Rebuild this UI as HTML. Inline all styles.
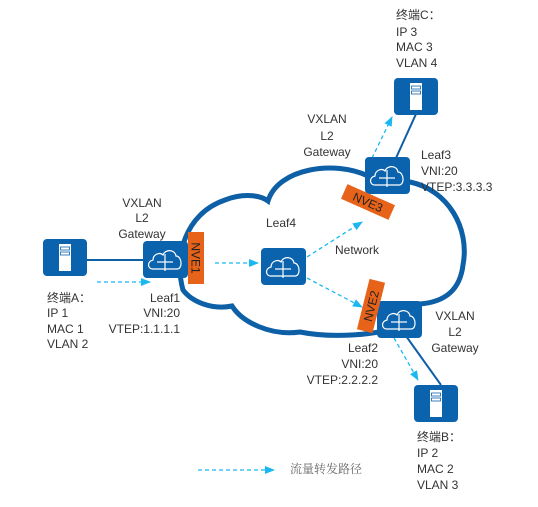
<!DOCTYPE html>
<html><head><meta charset="utf-8"><style>
html,body{margin:0;padding:0;background:#fff;width:538px;height:507px;overflow:hidden}
svg text{font-family:"Liberation Sans","Noto Sans CJK SC",sans-serif;font-size:12px;fill:#333}
</style></head><body>
<svg width="538" height="507" viewBox="0 0 538 507" xmlns="http://www.w3.org/2000/svg">
<defs>
<marker id="ar" markerWidth="10" markerHeight="8" refX="9" refY="4" orient="auto" markerUnits="userSpaceOnUse">
<path d="M0,0 L10,4 L0,8 Z" fill="#1ab8f0"/></marker>
<g id="sw">
<rect x="0" y="0" width="45" height="37" rx="4" fill="#0b63ad"/>
<path d="M10,28 C4,28 4,20 10,19 C10,13 17,11 20,14 C22,8 32,8 33,15 C39,15 40,28 34,28 Z" fill="none" stroke="#fff" stroke-width="1.2"/>
<g stroke="#fff" stroke-width="1.2" fill="#fff">
<line x1="22" y1="13" x2="22" y2="30"/><line x1="14" y1="21" x2="30" y2="21"/>
</g>
</g>
<g id="srv">
<rect x="0" y="0" width="44" height="37" rx="4" fill="#0b63ad"/>
<rect x="16" y="5" width="12" height="27" fill="#fff"/>
<rect x="17.5" y="8" width="9" height="3" fill="none" stroke="#0b63ad" stroke-width="0.8"/>
<rect x="17.5" y="13" width="9" height="3" fill="none" stroke="#0b63ad" stroke-width="0.8"/>
</g>
</defs>
<path d="M183,290 C174,258 184,214 225,200 C243,193 260,195 268,201 C278,168 335,160 368,176 L410,182 C448,190 470,228 463,265 C460,290 445,302 420,304 L400,325 C380,336 330,338 300,332 C270,336 242,322 232,306 C212,310 192,302 183,290 Z" fill="none" stroke="#0d5fa6" stroke-width="5"/>
<line x1="87" y1="260" x2="143" y2="260" stroke="#0d5fa6" stroke-width="2"/>
<line x1="396" y1="158" x2="416" y2="114" stroke="#0d5fa6" stroke-width="2"/>
<line x1="406" y1="336" x2="441" y2="385" stroke="#0d5fa6" stroke-width="2"/>
<g stroke="#1ab8f0" stroke-width="1.3" stroke-dasharray="4,3" fill="none" marker-end="url(#ar)">
<line x1="97" y1="282" x2="150" y2="282"/>
<line x1="215" y1="263" x2="258" y2="263"/>
<line x1="307" y1="257" x2="362" y2="222"/>
<line x1="307" y1="278" x2="362" y2="307"/>
<line x1="372" y1="158" x2="392" y2="117"/>
<line x1="394" y1="338" x2="418" y2="380"/>
<line x1="198" y1="470" x2="274" y2="470"/>
</g>
<use href="#sw" x="143" y="241"/>
<use href="#sw" x="261" y="248"/>
<use href="#sw" x="365" y="157"/>
<use href="#sw" x="377" y="301"/>
<use href="#srv" x="43" y="239"/>
<use href="#srv" x="394" y="78"/>
<use href="#srv" x="414" y="385"/>
<g transform="translate(196,258) rotate(90)"><rect x="-26" y="-8" width="52" height="16" fill="#e8631a"/><text x="0" y="4.5" text-anchor="middle" style="fill:#222">NVE1</text></g>
<g transform="translate(368,202) rotate(24)"><rect x="-26" y="-8" width="52" height="16" fill="#e8631a"/><text x="0" y="4.5" text-anchor="middle" style="fill:#222">NVE3</text></g>
<g transform="translate(371,306) rotate(-76)"><rect x="-26" y="-8" width="52" height="16" fill="#e8631a"/><text x="0" y="4.5" text-anchor="middle" style="fill:#222">NVE2</text></g>
<g text-anchor="middle"><text x="142" y="207">VXLAN</text><text x="142" y="222">L2</text><text x="142" y="238">Gateway</text></g>
<text x="47" y="302">终端A：</text><text x="47" y="317">IP 1</text><text x="47" y="333">MAC 1</text><text x="47" y="348">VLAN 2</text>
<g text-anchor="end"><text x="180" y="302">Leaf1</text><text x="180" y="317">VNI:20</text><text x="180" y="333">VTEP:1.1.1.1</text></g>
<text x="266" y="227">Leaf4</text>
<text x="335" y="254">Network</text>
<g text-anchor="middle"><text x="327" y="123">VXLAN</text><text x="327" y="140">L2</text><text x="327" y="156">Gateway</text></g>
<text x="396" y="19">终端C：</text><text x="396" y="36">IP 3</text><text x="396" y="51">MAC 3</text><text x="396" y="67">VLAN 4</text>
<text x="421" y="159">Leaf3</text><text x="421" y="175">VNI:20</text><text x="421" y="191">VTEP:3.3.3.3</text>
<g text-anchor="end"><text x="378" y="352">Leaf2</text><text x="378" y="368">VNI:20</text><text x="378" y="384">VTEP:2.2.2.2</text></g>
<g text-anchor="middle"><text x="455" y="320">VXLAN</text><text x="455" y="336">L2</text><text x="455" y="352">Gateway</text></g>
<text x="417" y="441">终端B：</text><text x="417" y="457">IP 2</text><text x="417" y="473">MAC 2</text><text x="417" y="489">VLAN 3</text>
<text x="290" y="473" style="fill:#666;font-family:'Noto Serif CJK SC',serif">流量转发路径</text>
</svg>
</body></html>
